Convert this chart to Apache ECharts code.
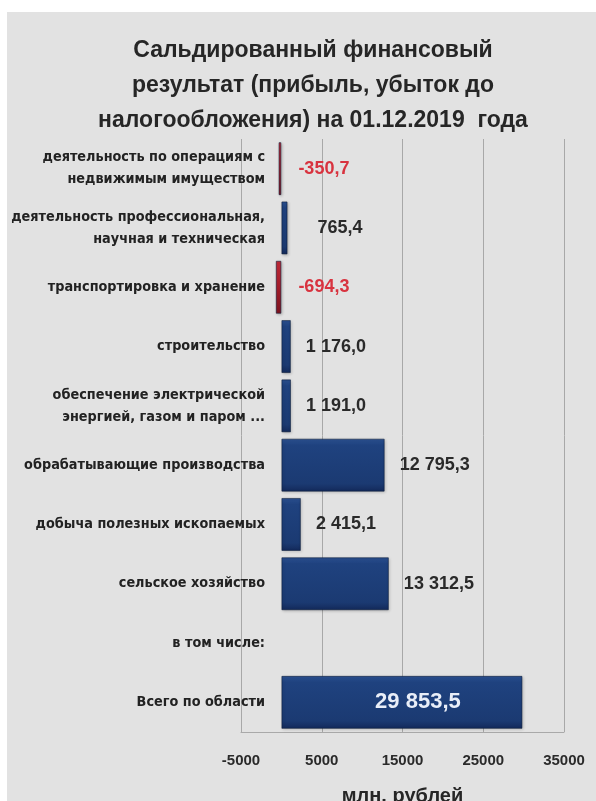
<!DOCTYPE html>
<html>
<head>
<meta charset="utf-8">
<style>
  html, body { margin: 0; padding: 0; background: #ffffff; }
  #chart { width: 596px; height: 801px; }
</style>
<script src="https://cdn.jsdelivr.net/npm/echarts@6/dist/echarts.min.js"></script>
</head>
<body>
<div id="chart"></div>
<script>
// Отрасли (сверху вниз)
const categories = [
  'деятельность по операциям с\nнедвижимым имуществом',
  'деятельность профессиональная,\nнаучная и техническая',
  'транспортировка и хранение',
  'строительство',
  'обеспечение электрической\nэнергией, газом и паром ...',
  'обрабатывающие производства',
  'добыча полезных ископаемых',
  'сельское хозяйство',
  'в том числе:',
  'Всего по области'
];
// Сальдированный финансовый результат, млн. рублей
const values = [-350.7, 765.4, -694.3, 1176.0, 1191.0, 12795.3, 2415.1, 13312.5, null, 29853.5];
// Шкала значений
const axisMin = -5000;
const axisMax = 35000;
const axisStep = 10000;

const COND = '"DejaVu Sans Condensed", "DejaVu Sans", sans-serif';
const SANS = '"Liberation Sans", Arial, sans-serif';

function fmt(v) {
  const neg = v < 0;
  const s = Math.abs(v).toFixed(1).split('.');
  const intPart = s[0].replace(/\B(?=(\d{3})+(?!\d))/g, ' ');
  return (neg ? '-' : '') + intPart + ',' + s[1];
}

const blueFill = new echarts.graphic.LinearGradient(0, 0, 0, 1, [
  { offset: 0, color: '#2c5293' },
  { offset: 0.12, color: '#1f427f' },
  { offset: 0.85, color: '#1b3a72' },
  { offset: 1, color: '#13295a' }
]);
const redFill = new echarts.graphic.LinearGradient(0, 0, 0, 1, [
  { offset: 0, color: '#c22a38' },
  { offset: 0.5, color: '#a81d2b' },
  { offset: 1, color: '#7e1420' }
]);

const lastIdx = categories.length - 1;
const barData = values.map((v, i) => {
  if (v === null) return { value: null };
  const item = { value: v, itemStyle: { color: v < 0 ? redFill : blueFill } };
  if (i === lastIdx) {
    item.label = {
      position: 'inside', offset: [16, 0], color: '#e9eef8',
      fontSize: 22, fontWeight: 'bold'
    };
  } else if (v < 0) {
    item.label = { position: 'right', distance: 17, color: '#d8333f' };
  } else if (v < 1000) {
    item.label = { position: 'right', distance: 30 };
  }
  return item;
});

const chart = echarts.init(document.getElementById('chart'), null, { renderer: 'canvas' });
chart.setOption({
  backgroundColor: 'transparent',
  animation: false,
  graphic: [{
    type: 'rect', z: -10, silent: true,
    shape: { x: 7, y: 12, width: 589, height: 789 },
    style: { fill: '#e2e2e2' }
  }],
  title: {
    text: 'Сальдированный финансовый\nрезультат (прибыль, убыток до\nналогообложения) на 01.12.2019  года',
    left: 308, top: 28, textAlign: 'center',
    textStyle: {
      fontFamily: SANS, fontWeight: 'bold', fontSize: 23,
      lineHeight: 35, color: '#262626'
    }
  },
  grid: { left: 241, right: 32, top: 139, bottom: 69, outerBoundsMode: 'none' },
  xAxis: {
    type: 'value',
    min: axisMin, max: axisMax, interval: axisStep,
    name: 'млн. рублей', nameLocation: 'middle', nameGap: 54,
    nameTextStyle: { fontFamily: SANS, fontWeight: 'bold', fontSize: 20, color: '#262626' },
    axisLine: { show: true, onZero: false, lineStyle: { color: '#a9a9a9', width: 1 } },
    axisTick: { show: false },
    axisLabel: {
      margin: 21, fontFamily: SANS, fontWeight: 'bold', fontSize: 15, color: '#2a2a2a',
      formatter: v => String(v)
    },
    splitLine: { show: true, lineStyle: { color: '#a8a8a8', width: 1 } }
  },
  yAxis: {
    type: 'category',
    inverse: true,
    data: categories,
    axisLine: { show: false, onZero: false },
    axisTick: { show: false },
    axisLabel: {
      margin: -24, fontFamily: COND, fontWeight: 'bold', fontSize: 14.3,
      lineHeight: 22, color: '#222222', align: 'right'
    }
  },
  series: [{
    type: 'bar',
    data: barData,
    barWidth: 53,
    itemStyle: {
      borderColor: 'rgba(10,25,55,0.55)', borderWidth: 1,
      shadowColor: 'rgba(0,0,0,0.25)', shadowBlur: 3, shadowOffsetX: 1, shadowOffsetY: 1
    },
    label: {
      show: true, position: 'right', distance: 15,
      formatter: p => fmt(p.value),
      fontFamily: SANS, fontWeight: 'bold', fontSize: 18, color: '#2a2a2a'
    }
  }]
});
</script>
</body>
</html>
